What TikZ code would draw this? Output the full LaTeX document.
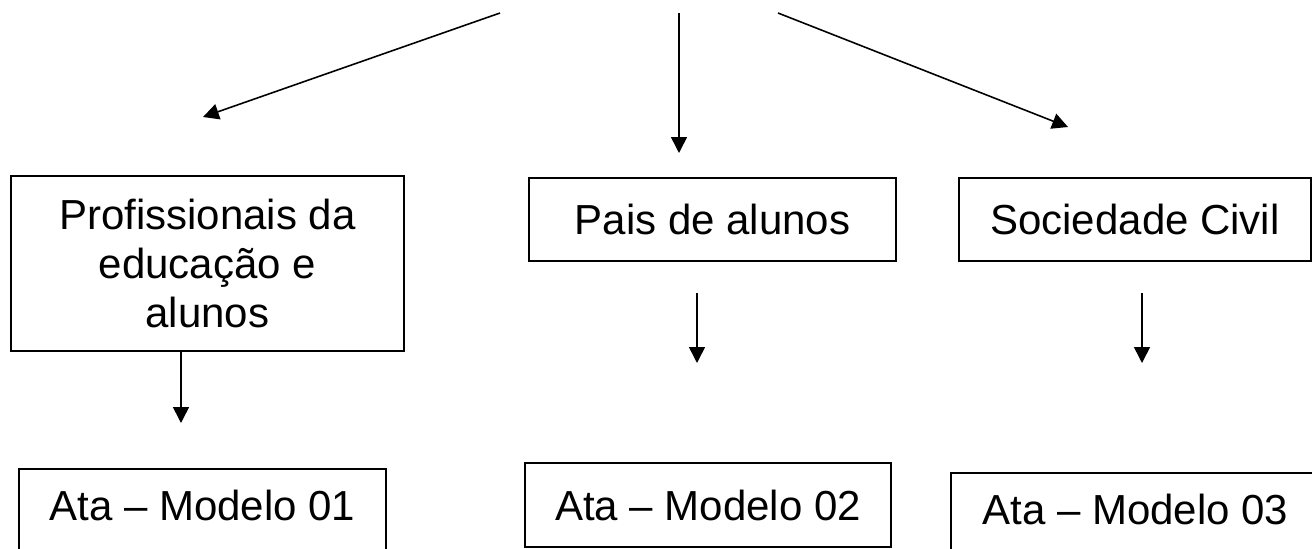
\documentclass[tikz,border=0pt]{standalone}
\usepackage{fontspec}
\setmainfont{Liberation Sans}
\usetikzlibrary{arrows.meta}
\begin{document}
\begin{tikzpicture}
  [x=0.02cm,y=-0.02cm,line width=0.9pt,
   box/.style={draw,rectangle,align=center,inner sep=0pt,font=\fontsize{23.9pt}{27.8pt}\selectfont},
   cutbox/.style={box,anchor=north,text height=1.04cm,text depth=0.8cm},
   arr/.style={-{Triangle[length=9pt,width=9pt]}}]
  \clip (0,0) rectangle (1312,548);
  \node[box,minimum width=7.86cm,minimum height=3.5cm] (prof) at (207.5,263.5) {Profissionais da\\educação e\\alunos};
  \node[box,minimum width=7.34cm,minimum height=1.66cm] (pais) at (712.5,219.5) {Pais de alunos};
  \node[box,minimum width=7.04cm,minimum height=1.66cm] (soc) at (1135,219.5) {Sociedade Civil};
  \node[cutbox,minimum width=7.34cm] (ata1) at (202.5,468) {Ata – Modelo 01};
  \node[box,minimum width=7.32cm,minimum height=1.68cm] (ata2) at (708,505) {Ata – Modelo 02};
  \node[cutbox,minimum width=7.38cm] (ata3) at (1135.5,472) {Ata – Modelo 03};
  \coordinate (s1) at (500,13);
  \coordinate (s2) at (679,13);
  \coordinate (s3) at (778,13);
  \coordinate (t1) at (203,117);
  \coordinate (t2) at (679,153);
  \coordinate (t3) at (1068,127);
  \coordinate (t4) at (181,423);
  \coordinate (s5) at (697,293);
  \coordinate (t5) at (697,363);
  \coordinate (s6) at (1142,293);
  \coordinate (t6) at (1142,363);
  \foreach \from/\to in {s1/t1,s2/t2,s3/t3,s5/t5,s6/t6}
    \draw[arr] (\from) -- (\to);
  \draw[arr] (prof.south -| t4) -- (t4);

\end{tikzpicture}
\end{document}
